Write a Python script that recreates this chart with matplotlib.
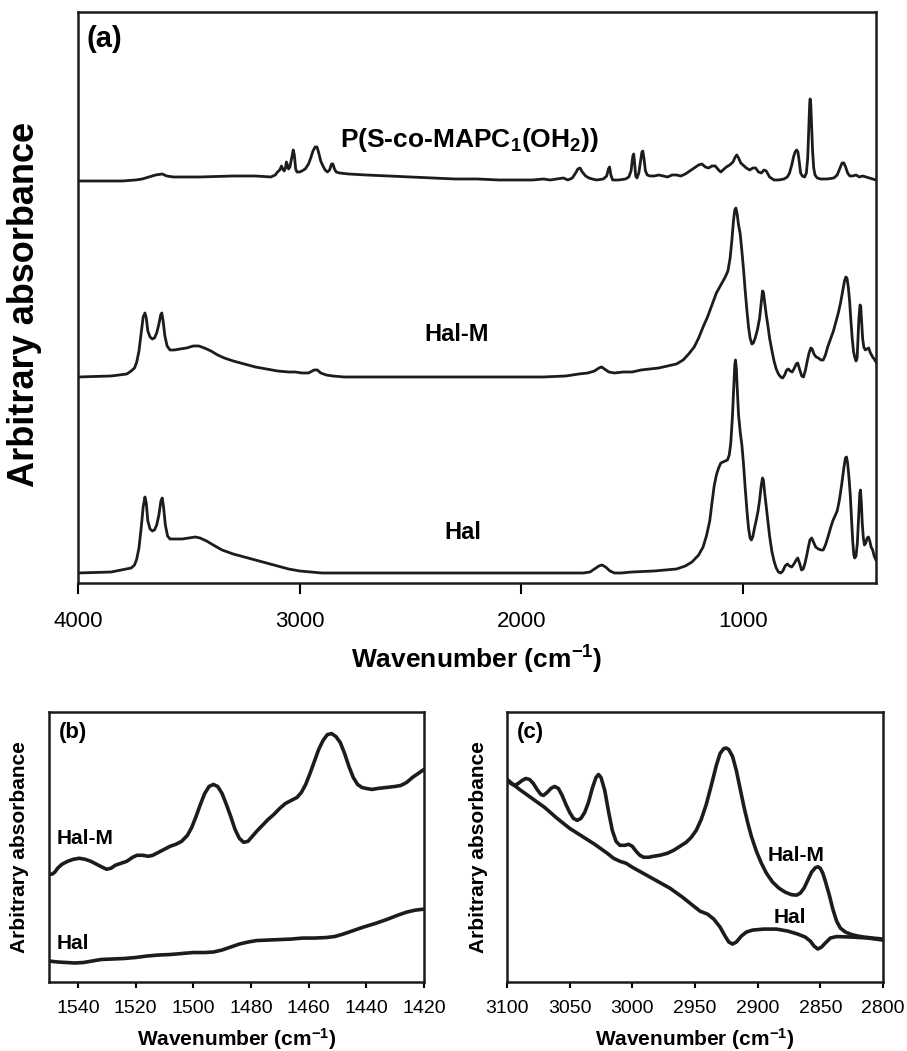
import numpy as np
import matplotlib
matplotlib.use("Agg")
import matplotlib.pyplot as plt

plt.rcParams['font.family'] = ['Liberation Sans', 'DejaVu Sans']
plt.rcParams['mathtext.fontset'] = 'custom'
plt.rcParams['mathtext.rm'] = 'Liberation Sans:bold'
plt.rcParams['mathtext.bf'] = 'Liberation Sans:bold'
plt.rcParams['mathtext.default'] = 'bf'

# ---- panel (a): full FTIR spectra, arbitrary absorbance ----
wn_hal = [4000, 3850, 3760, 3745, 3735, 3725, 3715, 3706, 3698, 3692, 3685, 3675, 3665,
          3655, 3645, 3635, 3626, 3620, 3614, 3606, 3596, 3585, 3560, 3530, 3500, 3470,
          3450, 3420, 3390, 3350, 3300, 3250, 3200, 3150, 3100, 3050, 3000, 2950, 2900,
          1720, 1690, 1670, 1650, 1636, 1620, 1600, 1580, 1550, 1500, 1400, 1300, 1260,
          1230, 1200, 1180, 1165, 1150, 1140, 1130, 1120, 1110, 1100, 1090, 1080, 1070,
          1062, 1055, 1048, 1042, 1037, 1034, 1030, 1026, 1020, 1012, 1005, 998, 990,
          982, 975, 968, 962, 955, 948, 940, 932, 925, 918, 912, 908, 902, 895, 888,
          880, 870, 860, 850, 840, 830, 820, 810, 800, 790, 780, 770, 760, 753, 745,
          736, 728, 720, 712, 705, 698, 690, 682, 672, 660, 648, 638, 628, 618, 605,
          595, 585, 575, 565, 555, 545, 538, 533, 528, 522, 516, 510, 505, 500, 496,
          490, 484, 478, 473, 470, 466, 462, 457, 452, 446, 440, 434, 428, 422, 415,
          408, 400]
ab_hal = [10, 11, 15, 18, 24, 35, 55, 76, 86, 80, 62, 54, 52,
          53, 58, 68, 82, 85, 76, 58, 47, 44, 44, 44, 45, 46,
          45, 42, 38, 33, 29, 26, 23, 20, 17, 14, 12, 11, 10,
          10, 11, 14, 17, 18, 16, 12, 10, 10, 11, 12, 14, 17,
          21, 28, 36, 47, 62, 80, 97, 108, 115, 120, 121, 122, 123,
          128, 140, 165, 195, 218, 223, 215, 195, 168, 150, 138, 120, 95,
          72, 55, 45, 43, 47, 55, 63, 72, 83, 97, 105, 103, 90, 76, 62,
          47, 32, 22, 15, 11, 10, 12, 17, 19, 17, 16, 19, 23, 25, 20,
          13, 14, 20, 28, 36, 43, 45, 41, 36, 34, 33, 33, 38, 45, 55,
          62, 67, 72, 83, 98, 115, 125, 126, 120, 106, 88, 62, 42, 28, 25,
          27, 40, 68, 90, 93, 80, 60, 45, 38, 40, 45, 46, 42, 36, 33,
          27, 23]

wn_halm = [4000, 3850, 3780, 3760, 3745, 3735, 3725, 3715, 3706, 3698, 3692, 3685, 3675,
           3665, 3655, 3645, 3635, 3627, 3622, 3616, 3608, 3598, 3585, 3565, 3540, 3510,
           3480, 3455, 3430, 3400, 3370, 3340, 3300, 3250, 3200, 3150, 3100, 3050, 3020,
           2990, 2960, 2935, 2920, 2905, 2880, 2850, 2800, 2500, 2200, 1900, 1800, 1740,
           1700, 1670, 1650, 1638, 1625, 1605, 1580, 1540, 1500, 1460, 1420, 1380, 1340,
           1300, 1270, 1245, 1220, 1200, 1180, 1160, 1140, 1120, 1105, 1092, 1080, 1068,
           1058, 1050, 1043, 1037, 1032, 1027, 1020, 1013, 1005, 997, 990, 982, 975, 968,
           960, 953, 945, 935, 925, 918, 912, 908, 902, 895, 888, 880, 870, 860, 850, 840,
           830, 821, 812, 803, 795, 787, 778, 770, 760, 753, 745, 735, 727, 718, 710, 702,
           694, 688, 680, 670, 660, 648, 638, 628, 618, 605, 592, 580, 570, 560, 550, 542,
           536, 531, 525, 519, 513, 507, 501, 496, 490, 485, 481, 477, 472, 469, 465, 460,
           455, 448, 440, 433, 425, 415, 408, 400]
ab_halm = [206, 207, 209, 212, 215, 221, 232, 250, 266, 270, 265, 252, 246,
           244, 245, 250, 259, 268, 270, 262, 247, 237, 233, 233, 234, 235,
           237, 237, 235, 232, 228, 225, 222, 219, 216, 214, 212, 211, 211,
           210, 210, 213, 213, 210, 208, 207, 206, 206, 206, 206, 207, 209,
           210, 212, 215, 216, 214, 211, 210, 211, 211, 213, 214, 215, 217,
           219, 223, 229, 236, 245, 256, 266, 278, 290, 296, 301, 306, 312,
           325, 343, 362, 373, 375, 370, 358, 350, 332, 312, 292, 272, 256, 245,
           239, 240, 245, 253, 265, 280, 292, 291, 280, 268, 258, 245, 233, 222, 214, 209,
           206, 205, 208, 213, 214, 212, 211, 214, 219, 220, 214, 207, 206, 213, 222, 230,
           235, 234, 229, 226, 225, 223, 223, 228, 236, 244, 252, 262, 270, 280, 292, 302,
           306, 305, 296, 282, 262, 244, 231, 226, 222, 225, 245, 265, 278, 277, 262, 244,
           236, 233, 234, 235, 230, 226, 224, 221]

wn_poly = [4000, 3900, 3800, 3740, 3710, 3680, 3650, 3620, 3600, 3570, 3450, 3300, 3200,
           3130, 3110, 3100, 3090, 3082, 3076, 3070, 3064, 3060, 3055, 3050, 3044, 3036,
           3029, 3024, 3018, 3012, 3000, 2990, 2975, 2960, 2950, 2940, 2930, 2922, 2915,
           2905, 2895, 2885, 2875, 2865, 2856, 2850, 2843, 2835, 2820, 2780, 2700, 2600,
           2500, 2400, 2300, 2200, 2100, 2000, 1950, 1900, 1870, 1840, 1810, 1790, 1770,
           1755, 1745, 1735, 1725, 1710, 1695, 1680, 1660, 1630, 1615, 1607, 1602, 1596,
           1588, 1560, 1530, 1515, 1505, 1497, 1493, 1489, 1484, 1478, 1470, 1462, 1456,
           1452, 1447, 1440, 1432, 1420, 1400, 1380, 1360, 1340, 1320, 1300, 1280, 1260,
           1240, 1220, 1200, 1185, 1170, 1155, 1140, 1125, 1110, 1100, 1090, 1075, 1060,
           1045, 1035, 1028, 1020, 1010, 1000, 985, 970, 955, 943, 930, 917, 905, 895,
           880, 860, 840, 815, 800, 790, 780, 772, 765, 758, 752, 746, 740, 732, 722, 714,
           708, 703, 699, 697, 694, 690, 686, 681, 675, 665, 650, 620, 590, 575, 562, 553,
           545, 537, 528, 518, 505, 490, 475, 460, 445, 430, 415, 400]
ab_poly = [402, 402, 402, 403, 404, 406, 408, 409, 407, 406, 406, 407, 407,
           406, 408, 411, 413, 417, 414, 412, 415, 421, 418, 414, 416, 425,
           433, 428, 414, 411, 411, 412, 414, 419, 425, 432, 436, 436, 431,
           422, 417, 413, 411, 413, 419, 419, 414, 411, 410, 409, 408, 407,
           406, 405, 404, 404, 403, 403, 403, 404, 403, 404, 405, 403, 405,
           410, 414, 415, 411, 407, 405, 404, 403, 404, 407, 414, 416, 408,
           403, 403, 404, 406, 412, 427, 429, 420, 407, 405, 410, 422, 431,
           432, 425, 412, 408, 407, 407, 408, 407, 406, 408, 408, 407, 409,
           412, 415, 418, 419, 416, 415, 417, 417, 413, 411, 413, 416, 418,
           421, 426, 428, 425, 420, 418, 415, 413, 415, 415, 411, 410, 413, 412,
           406, 403, 403, 404, 406, 410, 418, 426, 431, 433, 431, 421, 410, 407, 406, 410,
           425, 455, 480, 484, 478, 455, 432, 415, 408, 405, 404, 404, 405, 408, 415, 420,
           420, 416, 410, 407, 407, 408, 406, 407, 406, 405, 404, 403]

# ---- panel (b): 1550-1420 cm-1 ----
wn_b_halm = [1550, 1549, 1548, 1547, 1545.5, 1543.5, 1541.5, 1539.5, 1537.5, 1535.5, 1533.5,
             1531.5, 1530, 1528.5, 1527, 1525, 1523, 1521, 1519.5, 1517.5, 1515.5, 1514,
             1512, 1510, 1508, 1506, 1504, 1502, 1500.5, 1499, 1497.5, 1496, 1494.5, 1493,
             1491.5, 1490, 1488.5, 1487, 1485.5, 1484, 1482.5, 1481, 1479.5, 1478, 1476,
             1474, 1472, 1470, 1468, 1466, 1464, 1462.5, 1461, 1459.5, 1458, 1456.5, 1455,
             1453.5, 1452, 1450.5, 1449, 1447.5, 1446, 1444.5, 1443, 1441.5, 1440, 1438,
             1436, 1433, 1430, 1428, 1426, 1424, 1422, 1420]
ab_b_halm = [108, 108, 110, 114, 118, 121, 123, 124, 123, 121, 118,
             115, 113, 114, 117, 119, 121, 125, 127, 127, 126, 127,
             130, 133, 136, 138, 141, 147, 155, 166, 178, 189, 196, 198,
             196, 189, 178, 166, 153, 144, 140, 141, 146, 151, 157,
             163, 168, 174, 179, 182, 185, 190, 198, 209, 221, 233, 242,
             248, 249, 246, 240, 229, 216, 205, 198, 195, 194, 193,
             194, 195, 196, 197, 200, 205, 209, 213]
wn_b_hal = [1550, 1547, 1544, 1541, 1538, 1535, 1532, 1528, 1524, 1520, 1516, 1512, 1508,
            1504, 1500, 1496, 1493, 1490, 1487, 1484, 1481, 1478, 1474, 1470, 1466, 1462,
            1458, 1454, 1451, 1448, 1445, 1441, 1437, 1433, 1429, 1426, 1423, 1420]
ab_b_hal = [21, 20, 19.5, 19, 19.5, 21, 22.5, 23, 23.5, 24.5, 26, 27, 27.5,
            28.5, 29.5, 29.5, 30, 32, 35, 38, 40, 41.5, 42, 42.5, 43, 44,
            44, 44.5, 45.5, 48, 51, 55, 58.5, 62.5, 67, 70, 72, 73]

# ---- panel (c): 3100-2800 cm-1 ----
wn_c_halm = [3100, 3097, 3094, 3091, 3088, 3085, 3082, 3079, 3076, 3073, 3071, 3068, 3065,
             3062, 3059, 3056, 3053, 3050, 3047, 3044, 3041, 3038, 3035, 3032, 3029, 3027,
             3025, 3022, 3019, 3016, 3013, 3010, 3006, 3003, 3000, 2997, 2994, 2991, 2987,
             2983, 2978, 2972, 2967, 2962, 2957, 2953, 2949, 2945, 2941, 2937, 2933, 2930,
             2927, 2925, 2923, 2920, 2917, 2914, 2911, 2908, 2905, 2901, 2897, 2893, 2888,
             2883, 2878, 2873, 2869, 2866, 2863, 2860, 2857, 2854, 2852, 2850, 2848, 2846,
             2843, 2840, 2837, 2834, 2830, 2825, 2820, 2815, 2808, 2800]
ab_c_halm = [203, 199, 197, 199, 202, 204, 203, 199, 193, 188, 187, 190, 194,
             196, 194, 187, 178, 170, 164, 162, 164, 170, 180, 194, 205, 208,
             205, 192, 171, 152, 141, 137, 137, 138, 136, 131, 127, 125, 125,
             126, 127, 129, 132, 136, 140, 145, 152, 163, 178, 197, 217, 229,
             234, 234.5, 233, 226, 212, 194, 176, 160, 146, 131, 119, 109, 100,
             94, 90, 87.5, 87, 89, 94, 102, 110, 114.5, 115.5, 114, 109, 101,
             88, 73, 61, 54, 50, 47.5, 46, 45, 44, 43]
wn_c_hal = [3100, 3090, 3080, 3070, 3060, 3050, 3040, 3030, 3020, 3015, 3010, 3005, 3000,
            2990, 2980, 2970, 2960, 2955, 2950, 2946, 2940, 2935, 2930, 2926, 2923, 2920,
            2917, 2913, 2909, 2904, 2895, 2885, 2876, 2868, 2862, 2858, 2855, 2852, 2849,
            2846, 2842, 2837, 2825, 2812, 2800]
ab_c_hal = [203, 193, 184, 175, 164, 154, 146, 138, 129, 124, 121, 119, 115,
            108, 101, 94, 85, 80, 75, 71, 68, 63, 55, 46, 40, 38,
            40, 46, 50, 52, 53, 53, 51, 48, 45, 41, 36, 33, 35,
            39, 44, 45.5, 45, 44, 42]

LC = '#1c1c1c'

fig = plt.figure(figsize=(9.07, 10.51), dpi=100)
ax_a = fig.add_axes([0.0860, 0.4453, 0.8798, 0.5433])
ax_b = fig.add_axes([0.0540, 0.0657, 0.4134, 0.2569])
ax_c = fig.add_axes([0.5590, 0.0657, 0.4145, 0.2569])

# panel (a)
for wn, ab in [(wn_hal, ab_hal), (wn_halm, ab_halm), (wn_poly, ab_poly)]:
    ax_a.plot(wn, ab, color=LC, lw=2.0, solid_joinstyle='round')
ax_a.set_xlim(4000, 400)
ax_a.set_ylim(0, 571)
ax_a.set_xticks([4000, 3000, 2000, 1000])
ax_a.set_yticks([])
ax_a.tick_params(axis='x', direction='out', length=8, width=1.5, labelsize=16, pad=12)
ax_a.text(2232, 443, r'P(S-co-MAPC$_1$(OH$_2$))', ha='center', va='center',
          fontsize=19, fontweight='bold')
ax_a.text(2290, 248, 'Hal-M', ha='center', va='center', fontsize=17, fontweight='bold')
ax_a.text(2263, 50, 'Hal', ha='center', va='center', fontsize=17, fontweight='bold')
ax_a.text(0.011, 0.977, '(a)', transform=ax_a.transAxes, ha='left', va='top',
          fontsize=21, fontweight='bold')
ax_a.set_xlabel(r'Wavenumber (cm$^{-1}$)', fontsize=19, fontweight='bold')
ax_a.xaxis.set_label_coords(0.5, -0.135)
ax_a.xaxis.label.set_va('center')
ax_a.set_ylabel('Arbitrary absorbance', fontsize=26, fontweight='bold')
ax_a.yaxis.set_label_coords(-0.067, 0.487)
ax_a.yaxis.label.set_va('center')

# panel (b)
ax_b.plot(wn_b_halm, ab_b_halm, color=LC, lw=2.6)
ax_b.plot(wn_b_hal, ab_b_hal, color=LC, lw=2.6)
ax_b.set_xlim(1550, 1420)
ax_b.set_ylim(0, 270.7)
ax_b.set_xticks([1540, 1520, 1500, 1480, 1460, 1440, 1420])
ax_b.text(1547.2, 143.7, 'Hal-M', ha='left', va='center', fontsize=15, fontweight='bold')
ax_b.text(1547.2, 38.7, 'Hal', ha='left', va='center', fontsize=15, fontweight='bold')
ax_b.text(0.027, 0.963, '(b)', transform=ax_b.transAxes, ha='left', va='top',
          fontsize=16, fontweight='bold')

# panel (c)
ax_c.plot(wn_c_halm, ab_c_halm, color=LC, lw=2.6)
ax_c.plot(wn_c_hal, ab_c_hal, color=LC, lw=2.6)
ax_c.set_xlim(3100, 2800)
ax_c.set_ylim(0, 270.7)
ax_c.set_xticks([3100, 3050, 3000, 2950, 2900, 2850, 2800])
ax_c.text(2869, 126.7, 'Hal-M', ha='center', va='center', fontsize=15, fontweight='bold')
ax_c.text(2874, 64.7, 'Hal', ha='center', va='center', fontsize=15, fontweight='bold')
ax_c.text(0.027, 0.963, '(c)', transform=ax_c.transAxes, ha='left', va='top',
          fontsize=16, fontweight='bold')

for ax in (ax_b, ax_c):
    ax.set_yticks([])
    ax.tick_params(axis='x', direction='out', length=4, width=1.5, labelsize=14, pad=9)
    ax.set_xlabel(r'Wavenumber (cm$^{-1}$)', fontsize=15, fontweight='bold')
    ax.xaxis.set_label_coords(0.5, -0.212)
    ax.xaxis.label.set_va('center')
    ax.set_ylabel('Arbitrary absorbance', fontsize=15, fontweight='bold')
    ax.yaxis.set_label_coords(-0.078, 0.5)
    ax.yaxis.label.set_va('center')
ax_c.yaxis.set_label_coords(-0.075, 0.5)

for ax in (ax_a, ax_b, ax_c):
    for sp in ax.spines.values():
        sp.set_linewidth(1.8)
        sp.set_color(LC)

fig.savefig('out.png', dpi=100)
